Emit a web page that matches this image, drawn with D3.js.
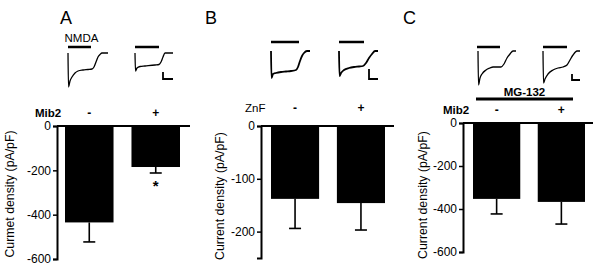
<!DOCTYPE html>
<html><head><meta charset="utf-8">
<script src="https://cdn.jsdelivr.net/npm/d3@7"></script>
<style>body{margin:0;background:#fff}svg{display:block;font-family:"Liberation Sans",Arial,sans-serif}</style>
</head><body><svg id="c" width="602" height="274"></svg>
<script>
// ---- data ----
const panelLetters = ["A", "B", "C"];
const groups = ["-", "+"];
const factorLabels = ["Mib2", "ZnF", "Mib2"];
const yTitles = ["Curmet density (pA/pF)", "Current density (pA/pF)", "Current density (pA/pF)"];
const valuesA = [-435, -185], errorsA = [88, 27];
const valuesB = [-138, -146], errorsB = [56, 51];
const valuesC = [-353, -367], errorsC = [70, 103];
const ticksA = [0, -200, -400, -600];
const ticksB = [0, -100, -200];
const ticksC = [0, -200, -400, -600];
const domainMin = [-600, -250, -600];
// current traces: [time (ms, relative), current (arb. units, inward negative)]
const traceA1 = [[0,0],[0.5,-34],[2,-28],[4,-24],[7,-20],[10,-18],[15,-17],[20,-16.5],[24,-16],[26,-14],[28,-9],[30,-4],[32,-1.5],[34,0],[40,0]];
const traceA2 = [[0,0],[0.5,-18],[2,-15],[5,-13.5],[10,-13],[20,-12],[24,-11.5],[26,-9],[28,-4],[30,0],[38,0]];
const traceB1 = [[0,0],[0.5,-27],[2,-23],[5,-22],[10,-21],[15,-20.5],[20,-20],[25,-19],[27,-16],[29,-10],[31,-5],[33,-2],[36,0],[39,0]];
const traceB2 = [[0,0],[0.5,-25],[2,-22],[5,-19],[10,-17],[15,-16],[20,-15.5],[24,-15],[27,-12],[30,-7],[33,-3],[36,0],[39,0]];
const traceC1 = [[0,0],[0.5,-34],[2,-27],[4,-23],[8,-19],[12,-17],[15,-16],[23,-16],[26,-13],[29,-7],[32,-3],[35,0],[38,0]];
const traceC2 = [[0,0],[0.5,-32],[2,-28],[5,-23],[10,-19],[15,-17],[20,-16],[24,-14],[27,-9],[30,-4],[34,0],[37,0]];
const stimLabel = ["NMDA", "", ""];
const sharedLabel = ["", "", "MG-132"];

// ---- layout ----
const svg = d3.select("#c");
const panels = [
  {values: valuesA, errors: errorsA, ticks: ticksA, ax: 57, y0: 126, y1: 259, xr: [65, 180], xEnd: 190,
   letterX: 60, titleX: 11, titleY: 194, factorX: 35, factorY: 117, factorBold: true,
   traces: [traceA1, traceA2], tx: [68, 135], tBase: 53, stim: [[68, 91], [135, 159]], stimY: 47,
   scaleBar: [163, 72, 79, 173], star: true},
  {values: valuesB, errors: errorsB, ticks: ticksB, ax: 261, y0: 126, y1: 258, xr: [271, 385], xEnd: 394,
   letterX: 205, titleX: 221, titleY: 196, factorX: 245, factorY: 112, factorBold: false,
   traces: [traceB1, traceB2], tx: [271, 339], tBase: 51, stim: [[271, 299], [339, 364]], stimY: 42,
   scaleBar: [369, 69, 79, 378]},
  {values: valuesC, errors: errorsC, ticks: ticksC, ax: 463, y0: 123, y1: 252, xr: [473, 585], xEnd: 593,
   letterX: 403, titleX: 424, titleY: 195, factorX: 443, factorY: 114, factorBold: true,
   traces: [traceC1, traceC2], tx: [478, 543], tBase: 51, stim: [[477, 500], [543, 567]], stimY: 47,
   scaleBar: [572, 74, 80, 580], shared: [476, 573], sharedY: 99}
];

panels.forEach((p, i) => {
  const g = svg.append("g");
  const y = d3.scaleLinear().domain([0, domainMin[i]]).range([p.y0, p.y1]);
  const x = d3.scaleBand().domain(groups).range(p.xr).paddingInner(0.27);

  // panel letter
  g.append("text").attr("x", p.letterX).attr("y", 24).attr("font-size", 18).text(panelLetters[i]);

  // bars
  g.selectAll(".bar").data(p.values).join("rect")
    .attr("x", (d, k) => x(groups[k])).attr("width", x.bandwidth())
    .attr("y", y(0)).attr("height", d => y(d) - y(0)).attr("fill", "#000");
  // error bars
  p.values.forEach((v, k) => {
    const cx = x(groups[k]) + x.bandwidth() / 2;
    g.append("line").attr("x1", cx).attr("x2", cx).attr("y1", y(v)).attr("y2", y(v - p.errors[k]))
      .attr("stroke", "#000").attr("stroke-width", 1.6);
    g.append("line").attr("x1", cx - 6).attr("x2", cx + 6).attr("y1", y(v - p.errors[k])).attr("y2", y(v - p.errors[k]))
      .attr("stroke", "#000").attr("stroke-width", 1.6);
  });

  // y axis
  const yAxis = d3.axisLeft(y).tickValues(p.ticks).tickSize(4).tickPadding(2).tickFormat(d => String(d));
  const ga = g.append("g").attr("transform", `translate(${p.ax},0)`).call(yAxis);
  ga.select(".domain").attr("stroke-width", 2);
  ga.selectAll(".tick line").attr("stroke-width", 1.5);
  ga.selectAll("text").attr("font-size", 12).attr("font-family", "Liberation Sans, Arial, sans-serif").attr("fill", "#000");
  // zero line
  g.append("line").attr("x1", p.ax).attr("x2", p.xEnd).attr("y1", y(0)).attr("y2", y(0))
    .attr("stroke", "#000").attr("stroke-width", 2);

  // y title
  g.append("text").attr("transform", `translate(${p.titleX},${p.titleY}) rotate(-90)`)
    .attr("text-anchor", "middle").attr("dominant-baseline", "middle").attr("font-size", 12.3).text(yTitles[i]);

  // factor label and +/- labels
  g.append("text").attr("x", p.factorX).attr("y", p.factorY).attr("font-size", 11.5)
    .attr("font-weight", p.factorBold ? "bold" : "normal").text(factorLabels[i]);
  groups.forEach(gr => {
    g.append("text").attr("x", x(gr) + x.bandwidth() / 2).attr("y", p.factorY)
      .attr("text-anchor", "middle").attr("font-size", 12).attr("font-weight", "bold").text(gr);
  });

  if (p.star) {
    g.append("text").attr("x", x("+") + x.bandwidth() / 2).attr("y", y(p.values[1] - p.errors[1]) + 18)
      .attr("text-anchor", "middle").attr("font-size", 15).attr("font-weight", "bold").text("*");
  }

  // shared label (MG-132)
  if (p.shared) {
    g.append("line").attr("x1", p.shared[0]).attr("x2", p.shared[1]).attr("y1", p.sharedY).attr("y2", p.sharedY)
      .attr("stroke", "#000").attr("stroke-width", 3);
    g.append("text").attr("x", (p.shared[0] + p.shared[1]) / 2).attr("y", p.sharedY - 3)
      .attr("text-anchor", "middle").attr("font-size", 11.5).attr("font-weight", "bold").text(sharedLabel[i]);
  }

  // traces
  p.traces.forEach((tr, k) => {
    const tx = d3.scaleLinear().domain([0, 1]).range([p.tx[k], p.tx[k] + 1]);
    const ty = d3.scaleLinear().domain([0, -1]).range([p.tBase, p.tBase + 1]);
    const line = d3.line().x(d => tx(d[0])).y(d => ty(d[1])).curve(d3.curveMonotoneX);
    g.append("path").attr("d", line(tr)).attr("fill", "none").attr("stroke", "#000")
      .attr("stroke-width", i === 1 ? 1.8 : 1.3);
    // stimulus bar
    g.append("line").attr("x1", p.stim[k][0]).attr("x2", p.stim[k][1]).attr("y1", p.stimY).attr("y2", p.stimY)
      .attr("stroke", "#000").attr("stroke-width", 2.5);
  });
  if (stimLabel[i]) {
    g.append("text").attr("x", (p.stim[0][0] + p.stim[0][1]) / 2 + 2).attr("y", p.stimY - 5)
      .attr("text-anchor", "middle").attr("font-size", 11.5).text(stimLabel[i]);
  }
  // scale bar
  const sb = p.scaleBar;
  g.append("path").attr("d", `M${sb[0]},${sb[1]}V${sb[2]}H${sb[3]}`).attr("fill", "none")
    .attr("stroke", "#000").attr("stroke-width", 1.8);
});
</script></body></html>
